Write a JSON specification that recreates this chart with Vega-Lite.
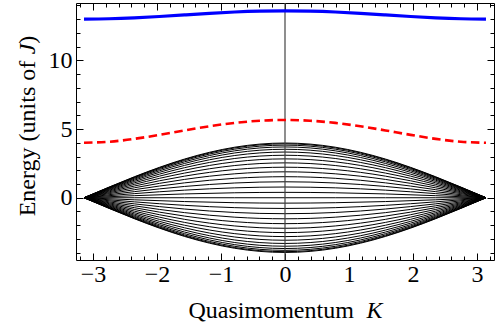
{
"$schema": "https://vega.github.io/schema/vega-lite/v6.json",
"width": 418, "height": 257,
"autosize": {"type": "none"},
"padding": {"left": 76, "top": 3, "right": 3, "bottom": 69},
"background": "white",
"config": {"view": {"stroke": "black", "strokeWidth": 1}, "axis": {"labelFont": "Liberation Serif", "labelFontSize": 24, "labelColor": "black", "titleFont": "Liberation Serif"}},
"datasets": {
"cont": [
{"s":1,"K":-3.1416,"E":0},{"s":1,"K":-2.3562,"E":1.523},{"s":1,"K":-1.5708,"E":2.815},{"s":1,"K":-0.7854,"E":3.678},{"s":1,"K":0,"E":3.981},{"s":1,"K":0.7854,"E":3.678},{"s":1,"K":1.5708,"E":2.815},{"s":1,"K":2.3562,"E":1.523},{"s":1,"K":3.1416,"E":0},
{"s":2,"K":-3.1416,"E":0},{"s":2,"K":-2.3562,"E":1.501},{"s":2,"K":-1.5708,"E":2.774},{"s":2,"K":-0.7854,"E":3.625},{"s":2,"K":0,"E":3.923},{"s":2,"K":0.7854,"E":3.625},{"s":2,"K":1.5708,"E":2.774},{"s":2,"K":2.3562,"E":1.501},{"s":2,"K":3.1416,"E":0},
{"s":3,"K":-3.1416,"E":0},{"s":3,"K":-2.3562,"E":1.465},{"s":3,"K":-1.5708,"E":2.707},{"s":3,"K":-0.7854,"E":3.536},{"s":3,"K":0,"E":3.828},{"s":3,"K":0.7854,"E":3.536},{"s":3,"K":1.5708,"E":2.707},{"s":3,"K":2.3562,"E":1.465},{"s":3,"K":3.1416,"E":0},
{"s":4,"K":-3.1416,"E":0},{"s":4,"K":-2.3562,"E":1.414},{"s":4,"K":-1.5708,"E":2.613},{"s":4,"K":-0.7854,"E":3.414},{"s":4,"K":0,"E":3.696},{"s":4,"K":0.7854,"E":3.414},{"s":4,"K":1.5708,"E":2.613},{"s":4,"K":2.3562,"E":1.414},{"s":4,"K":3.1416,"E":0},
{"s":5,"K":-3.1416,"E":0},{"s":5,"K":-2.3562,"E":1.35},{"s":5,"K":-1.5708,"E":2.494},{"s":5,"K":-0.7854,"E":3.259},{"s":5,"K":0,"E":3.528},{"s":5,"K":0.7854,"E":3.259},{"s":5,"K":1.5708,"E":2.494},{"s":5,"K":2.3562,"E":1.35},{"s":5,"K":3.1416,"E":0},
{"s":6,"K":-3.1416,"E":0},{"s":6,"K":-2.3562,"E":1.273},{"s":6,"K":-1.5708,"E":2.352},{"s":6,"K":-0.7854,"E":3.073},{"s":6,"K":0,"E":3.326},{"s":6,"K":0.7854,"E":3.073},{"s":6,"K":1.5708,"E":2.352},{"s":6,"K":2.3562,"E":1.273},{"s":6,"K":3.1416,"E":0},
{"s":7,"K":-3.1416,"E":0},{"s":7,"K":-2.3562,"E":1.183},{"s":7,"K":-1.5708,"E":2.186},{"s":7,"K":-0.7854,"E":2.857},{"s":7,"K":0,"E":3.092},{"s":7,"K":0.7854,"E":2.857},{"s":7,"K":1.5708,"E":2.186},{"s":7,"K":2.3562,"E":1.183},{"s":7,"K":3.1416,"E":0},
{"s":8,"K":-3.1416,"E":0},{"s":8,"K":-2.3562,"E":1.082},{"s":8,"K":-1.5708,"E":2},{"s":8,"K":-0.7854,"E":2.613},{"s":8,"K":0,"E":2.828},{"s":8,"K":0.7854,"E":2.613},{"s":8,"K":1.5708,"E":2},{"s":8,"K":2.3562,"E":1.082},{"s":8,"K":3.1416,"E":0},
{"s":9,"K":-3.1416,"E":0},{"s":9,"K":-2.3562,"E":0.971},{"s":9,"K":-1.5708,"E":1.794},{"s":9,"K":-0.7854,"E":2.344},{"s":9,"K":0,"E":2.538},{"s":9,"K":0.7854,"E":2.344},{"s":9,"K":1.5708,"E":1.794},{"s":9,"K":2.3562,"E":0.971},{"s":9,"K":3.1416,"E":0},
{"s":10,"K":-3.1416,"E":0},{"s":10,"K":-2.3562,"E":0.85},{"s":10,"K":-1.5708,"E":1.571},{"s":10,"K":-0.7854,"E":2.053},{"s":10,"K":0,"E":2.222},{"s":10,"K":0.7854,"E":2.053},{"s":10,"K":1.5708,"E":1.571},{"s":10,"K":2.3562,"E":0.85},{"s":10,"K":3.1416,"E":0},
{"s":11,"K":-3.1416,"E":0},{"s":11,"K":-2.3562,"E":0.722},{"s":11,"K":-1.5708,"E":1.333},{"s":11,"K":-0.7854,"E":1.742},{"s":11,"K":0,"E":1.886},{"s":11,"K":0.7854,"E":1.742},{"s":11,"K":1.5708,"E":1.333},{"s":11,"K":2.3562,"E":0.722},{"s":11,"K":3.1416,"E":0},
{"s":12,"K":-3.1416,"E":0},{"s":12,"K":-2.3562,"E":0.586},{"s":12,"K":-1.5708,"E":1.082},{"s":12,"K":-0.7854,"E":1.414},{"s":12,"K":0,"E":1.531},{"s":12,"K":0.7854,"E":1.414},{"s":12,"K":1.5708,"E":1.082},{"s":12,"K":2.3562,"E":0.586},{"s":12,"K":3.1416,"E":0},
{"s":13,"K":-3.1416,"E":0},{"s":13,"K":-2.3562,"E":0.444},{"s":13,"K":-1.5708,"E":0.821},{"s":13,"K":-0.7854,"E":1.073},{"s":13,"K":0,"E":1.161},{"s":13,"K":0.7854,"E":1.073},{"s":13,"K":1.5708,"E":0.821},{"s":13,"K":2.3562,"E":0.444},{"s":13,"K":3.1416,"E":0},
{"s":14,"K":-3.1416,"E":0},{"s":14,"K":-2.3562,"E":0.299},{"s":14,"K":-1.5708,"E":0.552},{"s":14,"K":-0.7854,"E":0.721},{"s":14,"K":0,"E":0.78},{"s":14,"K":0.7854,"E":0.721},{"s":14,"K":1.5708,"E":0.552},{"s":14,"K":2.3562,"E":0.299},{"s":14,"K":3.1416,"E":0},
{"s":15,"K":-3.1416,"E":0},{"s":15,"K":-2.3562,"E":0.15},{"s":15,"K":-1.5708,"E":0.277},{"s":15,"K":-0.7854,"E":0.362},{"s":15,"K":0,"E":0.392},{"s":15,"K":0.7854,"E":0.362},{"s":15,"K":1.5708,"E":0.277},{"s":15,"K":2.3562,"E":0.15},{"s":15,"K":3.1416,"E":0},
{"s":16,"K":-3.1416,"E":0},{"s":16,"K":-2.3562,"E":0},{"s":16,"K":-1.5708,"E":0},{"s":16,"K":-0.7854,"E":0},{"s":16,"K":0,"E":0},{"s":16,"K":0.7854,"E":0},{"s":16,"K":1.5708,"E":0},{"s":16,"K":2.3562,"E":0},{"s":16,"K":3.1416,"E":0},
{"s":17,"K":-3.1416,"E":0},{"s":17,"K":-2.3562,"E":-0.15},{"s":17,"K":-1.5708,"E":-0.277},{"s":17,"K":-0.7854,"E":-0.362},{"s":17,"K":0,"E":-0.392},{"s":17,"K":0.7854,"E":-0.362},{"s":17,"K":1.5708,"E":-0.277},{"s":17,"K":2.3562,"E":-0.15},{"s":17,"K":3.1416,"E":0},
{"s":18,"K":-3.1416,"E":0},{"s":18,"K":-2.3562,"E":-0.299},{"s":18,"K":-1.5708,"E":-0.552},{"s":18,"K":-0.7854,"E":-0.721},{"s":18,"K":0,"E":-0.78},{"s":18,"K":0.7854,"E":-0.721},{"s":18,"K":1.5708,"E":-0.552},{"s":18,"K":2.3562,"E":-0.299},{"s":18,"K":3.1416,"E":0},
{"s":19,"K":-3.1416,"E":0},{"s":19,"K":-2.3562,"E":-0.444},{"s":19,"K":-1.5708,"E":-0.821},{"s":19,"K":-0.7854,"E":-1.073},{"s":19,"K":0,"E":-1.161},{"s":19,"K":0.7854,"E":-1.073},{"s":19,"K":1.5708,"E":-0.821},{"s":19,"K":2.3562,"E":-0.444},{"s":19,"K":3.1416,"E":0},
{"s":20,"K":-3.1416,"E":0},{"s":20,"K":-2.3562,"E":-0.586},{"s":20,"K":-1.5708,"E":-1.082},{"s":20,"K":-0.7854,"E":-1.414},{"s":20,"K":0,"E":-1.531},{"s":20,"K":0.7854,"E":-1.414},{"s":20,"K":1.5708,"E":-1.082},{"s":20,"K":2.3562,"E":-0.586},{"s":20,"K":3.1416,"E":0},
{"s":21,"K":-3.1416,"E":0},{"s":21,"K":-2.3562,"E":-0.722},{"s":21,"K":-1.5708,"E":-1.333},{"s":21,"K":-0.7854,"E":-1.742},{"s":21,"K":0,"E":-1.886},{"s":21,"K":0.7854,"E":-1.742},{"s":21,"K":1.5708,"E":-1.333},{"s":21,"K":2.3562,"E":-0.722},{"s":21,"K":3.1416,"E":0},
{"s":22,"K":-3.1416,"E":0},{"s":22,"K":-2.3562,"E":-0.85},{"s":22,"K":-1.5708,"E":-1.571},{"s":22,"K":-0.7854,"E":-2.053},{"s":22,"K":0,"E":-2.222},{"s":22,"K":0.7854,"E":-2.053},{"s":22,"K":1.5708,"E":-1.571},{"s":22,"K":2.3562,"E":-0.85},{"s":22,"K":3.1416,"E":0},
{"s":23,"K":-3.1416,"E":0},{"s":23,"K":-2.3562,"E":-0.971},{"s":23,"K":-1.5708,"E":-1.794},{"s":23,"K":-0.7854,"E":-2.344},{"s":23,"K":0,"E":-2.538},{"s":23,"K":0.7854,"E":-2.344},{"s":23,"K":1.5708,"E":-1.794},{"s":23,"K":2.3562,"E":-0.971},{"s":23,"K":3.1416,"E":0},
{"s":24,"K":-3.1416,"E":0},{"s":24,"K":-2.3562,"E":-1.082},{"s":24,"K":-1.5708,"E":-2},{"s":24,"K":-0.7854,"E":-2.613},{"s":24,"K":0,"E":-2.828},{"s":24,"K":0.7854,"E":-2.613},{"s":24,"K":1.5708,"E":-2},{"s":24,"K":2.3562,"E":-1.082},{"s":24,"K":3.1416,"E":0},
{"s":25,"K":-3.1416,"E":0},{"s":25,"K":-2.3562,"E":-1.183},{"s":25,"K":-1.5708,"E":-2.186},{"s":25,"K":-0.7854,"E":-2.857},{"s":25,"K":0,"E":-3.092},{"s":25,"K":0.7854,"E":-2.857},{"s":25,"K":1.5708,"E":-2.186},{"s":25,"K":2.3562,"E":-1.183},{"s":25,"K":3.1416,"E":0},
{"s":26,"K":-3.1416,"E":0},{"s":26,"K":-2.3562,"E":-1.273},{"s":26,"K":-1.5708,"E":-2.352},{"s":26,"K":-0.7854,"E":-3.073},{"s":26,"K":0,"E":-3.326},{"s":26,"K":0.7854,"E":-3.073},{"s":26,"K":1.5708,"E":-2.352},{"s":26,"K":2.3562,"E":-1.273},{"s":26,"K":3.1416,"E":0},
{"s":27,"K":-3.1416,"E":0},{"s":27,"K":-2.3562,"E":-1.35},{"s":27,"K":-1.5708,"E":-2.494},{"s":27,"K":-0.7854,"E":-3.259},{"s":27,"K":0,"E":-3.528},{"s":27,"K":0.7854,"E":-3.259},{"s":27,"K":1.5708,"E":-2.494},{"s":27,"K":2.3562,"E":-1.35},{"s":27,"K":3.1416,"E":0},
{"s":28,"K":-3.1416,"E":0},{"s":28,"K":-2.3562,"E":-1.414},{"s":28,"K":-1.5708,"E":-2.613},{"s":28,"K":-0.7854,"E":-3.414},{"s":28,"K":0,"E":-3.696},{"s":28,"K":0.7854,"E":-3.414},{"s":28,"K":1.5708,"E":-2.613},{"s":28,"K":2.3562,"E":-1.414},{"s":28,"K":3.1416,"E":0},
{"s":29,"K":-3.1416,"E":0},{"s":29,"K":-2.3562,"E":-1.465},{"s":29,"K":-1.5708,"E":-2.707},{"s":29,"K":-0.7854,"E":-3.536},{"s":29,"K":0,"E":-3.828},{"s":29,"K":0.7854,"E":-3.536},{"s":29,"K":1.5708,"E":-2.707},{"s":29,"K":2.3562,"E":-1.465},{"s":29,"K":3.1416,"E":0},
{"s":30,"K":-3.1416,"E":0},{"s":30,"K":-2.3562,"E":-1.501},{"s":30,"K":-1.5708,"E":-2.774},{"s":30,"K":-0.7854,"E":-3.625},{"s":30,"K":0,"E":-3.923},{"s":30,"K":0.7854,"E":-3.625},{"s":30,"K":1.5708,"E":-2.774},{"s":30,"K":2.3562,"E":-1.501},{"s":30,"K":3.1416,"E":0},
{"s":31,"K":-3.1416,"E":0},{"s":31,"K":-2.3562,"E":-1.523},{"s":31,"K":-1.5708,"E":-2.815},{"s":31,"K":-0.7854,"E":-3.678},{"s":31,"K":0,"E":-3.981},{"s":31,"K":0.7854,"E":-3.678},{"s":31,"K":1.5708,"E":-2.815},{"s":31,"K":2.3562,"E":-1.523},{"s":31,"K":3.1416,"E":0}
],
"red": [
{"K":-3.1416,"E":4},{"K":-2.7489,"E":4.075},{"K":-2.3562,"E":4.283},{"K":-1.9635,"E":4.576},{"K":-1.5708,"E":4.899},{"K":-1.1781,"E":5.202},{"K":-0.7854,"E":5.446},{"K":-0.3927,"E":5.603},{"K":0,"E":5.657},{"K":0.3927,"E":5.603},{"K":0.7854,"E":5.446},{"K":1.1781,"E":5.202},{"K":1.5708,"E":4.899},{"K":1.9635,"E":4.576},{"K":2.3562,"E":4.283},{"K":2.7489,"E":4.075},{"K":3.1416,"E":4}
],
"blue": [
{"K":-3.1416,"E":13},{"K":-2.7489,"E":13.023},{"K":-2.3562,"E":13.09},{"K":-1.9635,"E":13.189},{"K":-1.5708,"E":13.304},{"K":-1.1781,"E":13.419},{"K":-0.7854,"E":13.515},{"K":-0.3927,"E":13.579},{"K":0,"E":13.601},{"K":0.3927,"E":13.579},{"K":0.7854,"E":13.515},{"K":1.1781,"E":13.419},{"K":1.5708,"E":13.304},{"K":1.9635,"E":13.189},{"K":2.3562,"E":13.09},{"K":2.7489,"E":13.023},{"K":3.1416,"E":13}
],
"zero": [{"K":0}]
},
"resolve": {"axis": {"x": "independent", "y": "independent"}},
"layer": [
{
"data": {"name": "cont"},
"transform": [{"filter": "datum.s <= 16"}],
"mark": {"type": "line", "color": "black", "strokeWidth": 1, "interpolate": "natural", "clip": true},
"encoding": {
"x": {"field": "K", "type": "quantitative", "scale": {"domain": [-3.267, 3.267], "nice": false, "zero": false},
 "axis": {"orient": "bottom", "values": [-3,-2,-1,0,1,2,3], "format": "d", "tickSize": -7, "tickColor": "black", "tickWidth": 1, "domain": false, "grid": false,
  "labelFont": "Liberation Serif", "labelFontSize": 24, "labelColor": "black", "labelBaseline": "alphabetic", "labelPadding": 28.7, "labelFlush": false, "labelOverlap": false,
  "title": "Quasimomentum", "titleFont": "Liberation Serif", "titleFontSize": 24, "titleFontWeight": "normal", "titleColor": "black", "titleAlign": "left", "titleBaseline": "alphabetic", "titleX": 112, "titleY": 57}},
"y": {"field": "E", "type": "quantitative", "scale": {"domain": [-4.53, 14.17], "nice": false, "zero": false},
 "axis": {"orient": "left", "values": [0,5,10], "format": "d", "tickSize": -7, "tickColor": "black", "tickWidth": 1, "domain": false, "grid": false,
  "labelFont": "Liberation Serif", "labelFontSize": 24, "labelColor": "black", "labelPadding": 11, "labelFlush": false, "labelOverlap": false,
  "title": "Energy (units of", "titleFont": "Liberation Serif", "titleFontSize": 24, "titleFontWeight": "normal", "titleColor": "black", "titleAngle": -90, "titleAlign": "left", "titleBaseline": "alphabetic", "titleX": -42, "titleY": 212.8}},
"detail": {"field": "s", "type": "nominal"}
}
},
{
"data": {"name": "cont"},
"transform": [{"filter": "datum.s > 16"}],
"mark": {"type": "line", "color": "black", "strokeWidth": 1, "interpolate": "natural", "clip": true},
"encoding": {
"x": {"field": "K", "type": "quantitative", "scale": {"domain": [-3.267, 3.267], "nice": false, "zero": false},
 "axis": {"orient": "bottom", "values": [-3.2,-2.8,-2.6,-2.4,-2.2,-1.8,-1.6,-1.4,-1.2,-0.8,-0.6,-0.4,-0.2,0.2,0.4,0.6,0.8,1.2,1.4,1.6,1.8,2.2,2.4,2.6,2.8,3.2], "tickSize": -4, "tickColor": "black", "tickWidth": 1, "domain": false, "grid": false, "labels": false,
  "title": "K", "titleFont": "Liberation Serif", "titleFontSize": 24, "titleFontWeight": "normal", "titleFontStyle": "italic", "titleColor": "black", "titleAlign": "left", "titleBaseline": "alphabetic", "titleX": 290, "titleY": 57}},
"y": {"field": "E", "type": "quantitative", "scale": {"domain": [-4.53, 14.17], "nice": false, "zero": false},
 "axis": {"orient": "left", "values": [-4,-3,-2,-1,1,2,3,4,6,7,8,9,11,12,13,14], "tickSize": -4, "tickColor": "black", "tickWidth": 1, "domain": false, "grid": false, "labels": false,
  "title": "J", "titleFont": "Liberation Serif", "titleFontSize": 24, "titleFontWeight": "normal", "titleFontStyle": "italic", "titleColor": "black", "titleAngle": -90, "titleAlign": "left", "titleBaseline": "alphabetic", "titleX": -42, "titleY": 50.8}},
"detail": {"field": "s", "type": "nominal"}
}
},
{
"data": {"name": "zero"},
"mark": {"type": "rule", "color": "#444444", "strokeWidth": 1.2},
"encoding": {
"x": {"field": "K", "type": "quantitative", "scale": {"domain": [-3.267, 3.267], "nice": false, "zero": false}, "axis": null}
}
},
{
"data": {"name": "red"},
"mark": {"type": "line", "color": "#ff0000", "strokeWidth": 2.6, "strokeDash": [8.5, 4.5], "interpolate": "natural", "clip": true},
"encoding": {
"x": {"field": "K", "type": "quantitative", "scale": {"domain": [-3.267, 3.267], "nice": false, "zero": false},
 "axis": {"orient": "top", "values": [-3,-2,-1,0,1,2,3], "tickSize": -7, "tickColor": "black", "tickWidth": 1, "domain": false, "grid": false, "labels": false, "title": null}},
"y": {"field": "E", "type": "quantitative", "scale": {"domain": [-4.53, 14.17], "nice": false, "zero": false},
 "axis": {"orient": "right", "values": [0,5,10], "tickSize": -7, "tickColor": "black", "tickWidth": 1, "domain": false, "grid": false, "labels": false,
  "title": ")", "titleFont": "Liberation Serif", "titleFontSize": 24, "titleFontWeight": "normal", "titleColor": "black", "titleAngle": -90, "titleAlign": "left", "titleBaseline": "alphabetic", "titleX": -460, "titleY": 40.2}}
}
},
{
"data": {"name": "blue"},
"mark": {"type": "line", "color": "#0000ff", "strokeWidth": 3.2, "interpolate": "natural", "clip": true},
"encoding": {
"x": {"field": "K", "type": "quantitative", "scale": {"domain": [-3.267, 3.267], "nice": false, "zero": false},
 "axis": {"orient": "top", "values": [-3.2,-2.8,-2.6,-2.4,-2.2,-1.8,-1.6,-1.4,-1.2,-0.8,-0.6,-0.4,-0.2,0.2,0.4,0.6,0.8,1.2,1.4,1.6,1.8,2.2,2.4,2.6,2.8,3.2], "tickSize": -4, "tickColor": "black", "tickWidth": 1, "domain": false, "grid": false, "labels": false, "title": null}},
"y": {"field": "E", "type": "quantitative", "scale": {"domain": [-4.53, 14.17], "nice": false, "zero": false},
 "axis": {"orient": "right", "values": [-4,-3,-2,-1,1,2,3,4,6,7,8,9,11,12,13,14], "tickSize": -4, "tickColor": "black", "tickWidth": 1, "domain": false, "grid": false, "labels": false, "title": null}}
}
}
]
}
